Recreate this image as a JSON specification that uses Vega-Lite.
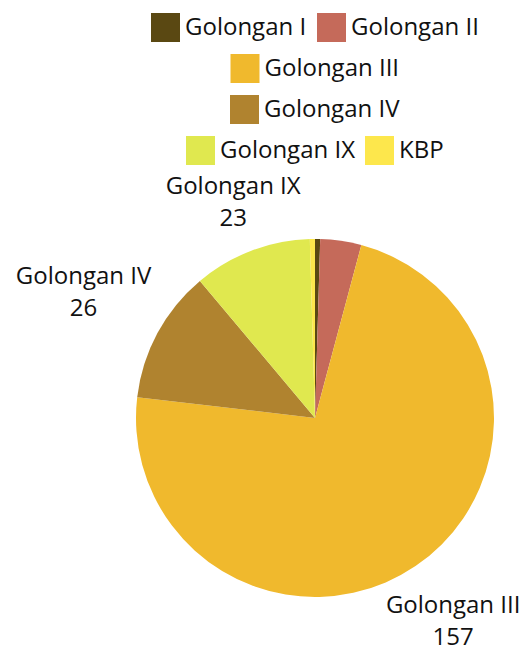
{
  "$schema": "https://vega.github.io/schema/vega-lite/v6.json",
  "width": 358,
  "height": 358,
  "autosize": {"type": "none"},
  "padding": {"left": 136, "top": 239, "right": 29, "bottom": 53},
  "background": "white",
  "data": {"values": [
    {"cat": "Golongan I", "value": 1},
    {"cat": "Golongan II", "value": 8},
    {"cat": "Golongan III", "value": 157},
    {"cat": "Golongan IV", "value": 26},
    {"cat": "Golongan IX", "value": 23},
    {"cat": "KBP", "value": 1}
  ]},
  "layer": [
    {
      "mark": {"type": "arc"},
      "encoding": {
        "theta": {"field": "value", "type": "quantitative", "stack": true},
        "color": {"field": "cat", "type": "nominal", "legend": null,
          "scale": {"domain": ["Golongan I", "Golongan II", "Golongan III", "Golongan IV", "Golongan IX", "KBP"],
                    "range": ["#5a4812", "#c56a5a", "#f0b92d", "#b0832f", "#e0e84f", "#fde74c"]}},
        "order": {"field": "cat", "sort": "ascending"}
      }
    },
    {
      "transform": [{"calculate": "datum.cat == 'Golongan III' ? datum.cat + '\\n' + datum.value : ''", "as": "lbl"}],
      "mark": {"type": "text", "radius": 246, "dy": -16, "fontSize": 24, "font": "Open Sans", "lineBreak": "\n", "lineHeight": 32, "color": "#111111", "align": "center", "baseline": "middle"},
      "encoding": {
        "theta": {"field": "value", "type": "quantitative", "stack": true},
        "detail": {"field": "cat", "type": "nominal"},
        "order": {"field": "cat", "sort": "ascending"},
        "text": {"field": "lbl", "type": "nominal"}
      }
    },
    {
      "transform": [{"calculate": "datum.cat == 'Golongan IV' ? datum.cat + '\\n' + datum.value : ''", "as": "lbl"}],
      "mark": {"type": "text", "radius": 263, "dy": -16, "fontSize": 24, "font": "Open Sans", "lineBreak": "\n", "lineHeight": 32, "color": "#111111", "align": "center", "baseline": "middle"},
      "encoding": {
        "theta": {"field": "value", "type": "quantitative", "stack": true},
        "detail": {"field": "cat", "type": "nominal"},
        "order": {"field": "cat", "sort": "ascending"},
        "text": {"field": "lbl", "type": "nominal"}
      }
    },
    {
      "transform": [{"calculate": "datum.cat == 'Golongan IX' ? datum.cat + '\\n' + datum.value : ''", "as": "lbl"}],
      "mark": {"type": "text", "radius": 230, "dy": -16, "fontSize": 24, "font": "Open Sans", "lineBreak": "\n", "lineHeight": 32, "color": "#111111", "align": "center", "baseline": "middle"},
      "encoding": {
        "theta": {"field": "value", "type": "quantitative", "stack": true},
        "detail": {"field": "cat", "type": "nominal"},
        "order": {"field": "cat", "sort": "ascending"},
        "text": {"field": "lbl", "type": "nominal"}
      }
    },
    {
      "transform": [{"filter": {"field": "cat", "oneOf": ["Golongan I", "Golongan II"]}}],
      "mark": {"type": "square", "opacity": 0},
      "encoding": {
        "color": {"field": "cat", "type": "nominal",
          "scale": {"domain": ["Golongan I", "Golongan II"], "range": ["#5a4812", "#c56a5a"]},
          "legend": {"title": null, "symbolOpacity": 1, "encode": {"symbols": {"update": {"opacity": {"value": 1}}}}}}
      }
    },
    {
      "transform": [{"filter": {"field": "cat", "oneOf": ["Golongan III"]}}],
      "mark": {"type": "square", "opacity": 0},
      "encoding": {
        "color": {"field": "cat", "type": "nominal",
          "scale": {"domain": ["Golongan III"], "range": ["#f0b92d"]},
          "legend": {"title": null, "symbolOpacity": 1, "encode": {"symbols": {"update": {"opacity": {"value": 1}}}}}}
      }
    },
    {
      "transform": [{"filter": {"field": "cat", "oneOf": ["Golongan IV"]}}],
      "mark": {"type": "square", "opacity": 0},
      "encoding": {
        "color": {"field": "cat", "type": "nominal",
          "scale": {"domain": ["Golongan IV"], "range": ["#b0832f"]},
          "legend": {"title": null, "symbolOpacity": 1, "encode": {"symbols": {"update": {"opacity": {"value": 1}}}}}}
      }
    },
    {
      "transform": [{"filter": {"field": "cat", "oneOf": ["Golongan IX", "KBP"]}}],
      "mark": {"type": "square", "opacity": 0},
      "encoding": {
        "color": {"field": "cat", "type": "nominal",
          "scale": {"domain": ["Golongan IX", "KBP"], "range": ["#e0e84f", "#fde74c"]},
          "legend": {"title": null, "symbolOpacity": 1, "encode": {"symbols": {"update": {"opacity": {"value": 1}}}}}}
      }
    }
  ],
  "resolve": {"scale": {"color": "independent"}, "legend": {"color": "independent"}},
  "config": {
    "view": {"stroke": null},
    "legend": {
      "orient": "top",
      "direction": "horizontal",
      "symbolType": "square",
      "symbolSize": 841,
      "symbolStrokeWidth": 0,
      "labelFont": "Open Sans",
      "labelFontSize": 24,
      "labelColor": "#111111",
      "labelOffset": 5,
      "columnPadding": 10,
      "labelLimit": 300,
      "offset": 74,
      "layout": {"top": {"anchor": "middle", "direction": "vertical", "center": true, "margin": 12}}
    }
  }
}
